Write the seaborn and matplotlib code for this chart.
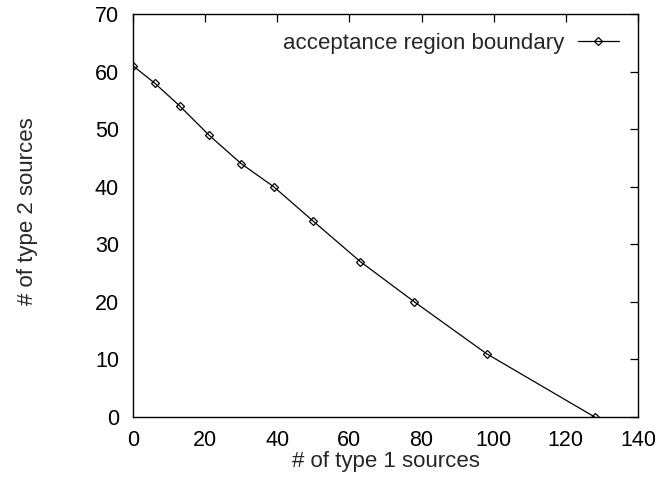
import matplotlib
matplotlib.use("Agg")
import matplotlib.pyplot as plt
import seaborn as sns
import pandas as pd

type1_sources = [0, 6, 13, 21, 30, 39, 50, 63, 78, 98, 128]
type2_sources = [61, 58, 54, 49, 44, 40, 34, 27, 20, 11, 0]
series_label = "acceptance region boundary"

sns.set_style("white")
plt.rcParams['font.family'] = ['Liberation Sans', 'DejaVu Sans']

df = pd.DataFrame({"x": type1_sources, "y": type2_sources})

W, H = 659, 479
fig = plt.figure(figsize=(W / 100, H / 100), dpi=100)
ax = fig.add_axes([133 / W, 1 - 417 / H, (638 - 133) / W, (417 - 14) / H])

sns.lineplot(data=df, x="x", y="y", ax=ax, color="black", linewidth=0.9,
             marker="D", markersize=4, markerfacecolor="none",
             markeredgecolor="black", markeredgewidth=0.9, label=series_label)

ax.set_xlim(0, 140)
ax.set_ylim(0, 70)
ax.set_xticks(range(0, 141, 20))
ax.set_yticks(range(0, 71, 10))
ax.tick_params(direction="in", length=6, width=0.9, top=True, right=True,
               labelsize=15.5, colors="black", pad=9)
ax.tick_params(axis="y", pad=10)
for s in ax.spines.values():
    s.set_color("black")
    s.set_linewidth(1.0)
    s.set_visible(True)

ax.set_xlabel("# of type 1 sources", fontsize=16, labelpad=0)
ax.set_ylabel("# of type 2 sources", fontsize=16)
ax.xaxis.set_label_coords(0.5, -(451 - 417) / 403)
ax.yaxis.set_label_coords((38 - 133) / 505, (417 - 211) / 403)

leg = ax.legend(loc="center right", bbox_to_anchor=(619 / W, 1 - 43 / H),
                bbox_transform=fig.transFigure, frameon=False, markerfirst=False,
                fontsize=16, handlelength=1.85, borderaxespad=0, borderpad=0,
                handletextpad=0.6)

fig.savefig("out.png", dpi=100)
